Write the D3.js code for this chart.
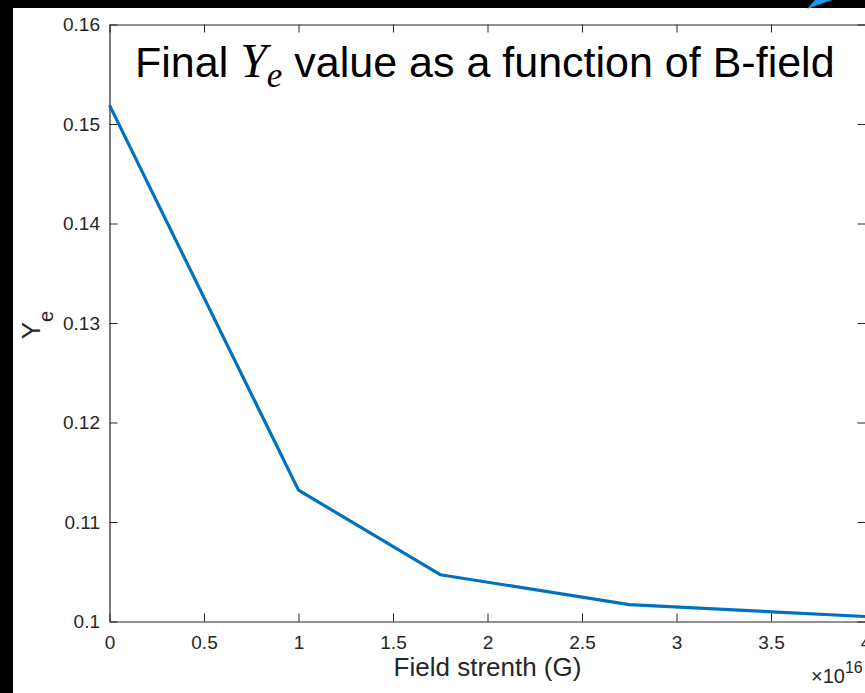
<!DOCTYPE html>
<html>
<head>
<meta charset="utf-8">
<script src="https://cdn.jsdelivr.net/npm/d3@7"></script>
<style>
  html, body { margin: 0; padding: 0; background: #000; }
  svg { display: block; }
</style>
</head>
<body>
<svg id="chart" width="865" height="693"></svg>
<script>
// Field strength in units of 1e16 G, and final electron fraction
const fieldStrength = [0, 1, 1.75, 2.75, 4];
const yeValues = [0.1519, 0.1132, 0.1047, 0.1017, 0.1005];

const xTicks = [0, 0.5, 1, 1.5, 2, 2.5, 3, 3.5, 4];
const xTickLabels = ["0", "0.5", "1", "1.5", "2", "2.5", "3", "3.5", "4"];
const yTicks = [0.1, 0.11, 0.12, 0.13, 0.14, 0.15, 0.16];
const yTickLabels = ["0.1", "0.11", "0.12", "0.13", "0.14", "0.15", "0.16"];

const W = 865, H = 693;
const plot = { left: 109.5, right: 865.5, top: 24.5, bottom: 621.5 };
const axisColor = "#262626";
const sans = "Helvetica, 'Liberation Sans', Arial, sans-serif";
const serif = "'Times New Roman', 'Liberation Serif', serif";

const svg = d3.select("#chart");

// figure background with black frame on top and left
svg.append("rect").attr("x", 0).attr("y", 0).attr("width", W).attr("height", H).attr("fill", "#000");
svg.append("rect").attr("x", 13).attr("y", 8).attr("width", W - 13).attr("height", H - 8).attr("fill", "#fff");
svg.append("path")
  .attr("d", "M807,9 L815,0 L832,0 Z")
  .attr("fill", "#1a9bf0");

const x = d3.scaleLinear().domain([0, 4]).range([plot.left, plot.right]);
const y = d3.scaleLinear().domain([0.1, 0.16]).range([plot.bottom, plot.top]);

const tickLen = 8;

// bottom axis
const xAxis = d3.axisBottom(x).tickValues(xTicks)
  .tickFormat((d, i) => xTickLabels[i]).tickSizeInner(-tickLen).tickSizeOuter(0);
const gx = svg.append("g").attr("transform", `translate(0,${plot.bottom})`).call(xAxis);

// left axis
const yAxis = d3.axisLeft(y).tickValues(yTicks)
  .tickFormat((d, i) => yTickLabels[i]).tickSizeInner(-tickLen).tickSizeOuter(0);
const gy = svg.append("g").attr("transform", `translate(${plot.left},0)`).call(yAxis);

// top and right box axes (ticks only)
const gxt = svg.append("g").attr("transform", `translate(0,${plot.top})`)
  .call(d3.axisTop(x).tickValues(xTicks).tickFormat("").tickSizeInner(-tickLen).tickSizeOuter(0));
const gyr = svg.append("g").attr("transform", `translate(${plot.right},0)`)
  .call(d3.axisRight(y).tickValues(yTicks).tickFormat("").tickSizeInner(-tickLen).tickSizeOuter(0));

[gx, gy, gxt, gyr].forEach(g => {
  g.select(".domain").attr("stroke", axisColor).attr("stroke-width", 1.2);
  g.selectAll(".tick line").attr("stroke", axisColor).attr("stroke-width", 1);
  g.selectAll(".tick text").attr("fill", axisColor)
    .style("font-family", sans).style("font-size", "19px");
});
gx.selectAll(".tick text").attr("dy", "0.71em").attr("y", 14);
gy.selectAll(".tick text").attr("x", -9.5);

// data line
const line = d3.line().x((d, i) => x(fieldStrength[i])).y(d => y(d));
svg.append("path")
  .datum(yeValues)
  .attr("d", line)
  .attr("fill", "none")
  .attr("stroke", "#0072BD")
  .attr("stroke-width", 3.2)
  .attr("stroke-linejoin", "round");

// title
const title = svg.append("text")
  .attr("x", 135).attr("y", 77)
  .attr("fill", "#000")
  .style("font-family", sans).style("font-size", "43px");
title.append("tspan").text("Final ");
title.append("tspan").text("Y").style("font-family", serif).style("font-style", "italic").style("font-size", "48px");
title.append("tspan").text("e").style("font-family", serif).style("font-style", "italic").style("font-size", "35px").attr("dy", 10);
title.append("tspan").text(" value as a function of B-field").attr("dy", -10);

// x axis label
svg.append("text")
  .attr("x", (plot.left + plot.right) / 2).attr("y", 676)
  .attr("text-anchor", "middle")
  .attr("fill", axisColor)
  .style("font-family", sans).style("font-size", "26px")
  .text("Field strenth (G)");

// exponent label
const expo = svg.append("text")
  .attr("x", 811).attr("y", 683)
  .attr("fill", axisColor)
  .style("font-family", sans).style("font-size", "20px");
expo.append("tspan").text("\u00d710");
expo.append("tspan").text("16").attr("dy", -10).style("font-size", "16px");

// y axis label
const yl = svg.append("text")
  .attr("transform", `translate(40,325) rotate(-90)`)
  .attr("text-anchor", "middle")
  .attr("fill", axisColor)
  .style("font-family", sans).style("font-size", "26px");
yl.append("tspan").text("Y");
yl.append("tspan").text("e").attr("dy", 13).style("font-size", "20px");
</script>
</body>
</html>
